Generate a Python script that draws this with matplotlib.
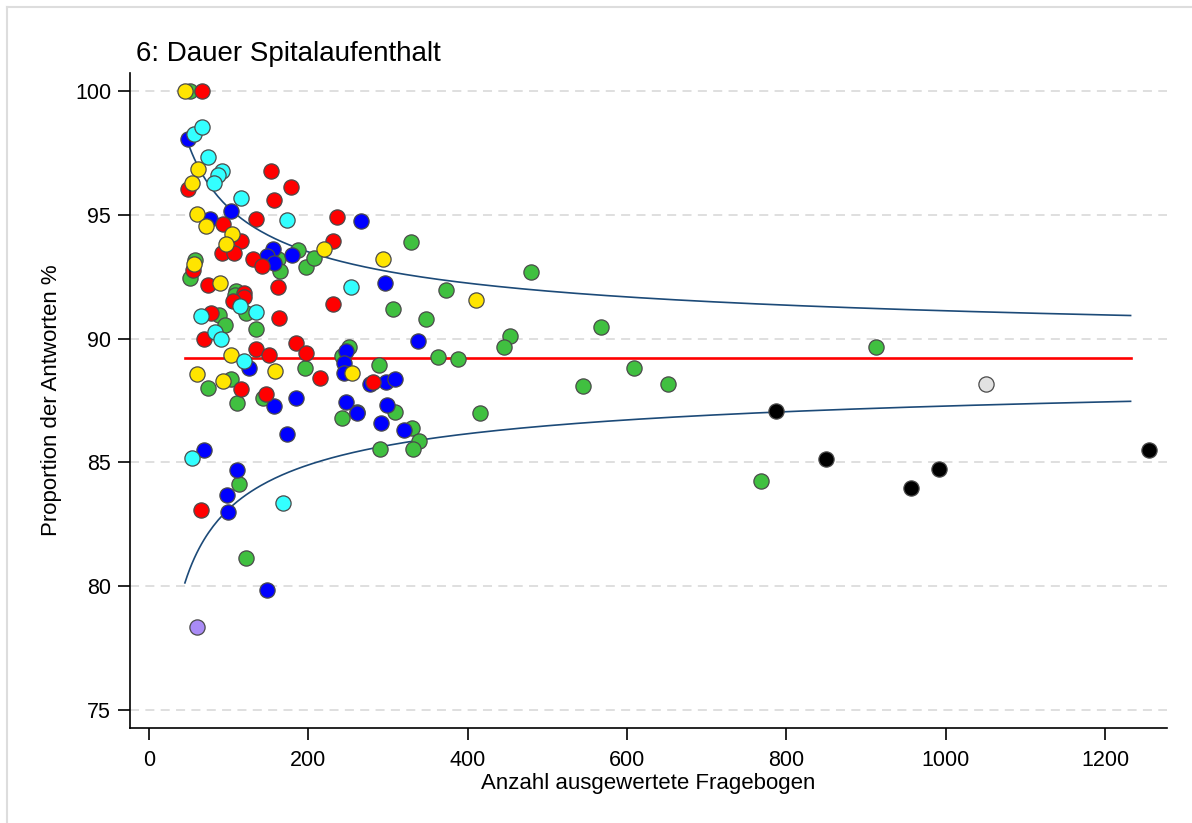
import numpy as np
import matplotlib
matplotlib.use('Agg')
import matplotlib.pyplot as plt
from matplotlib.lines import Line2D

plt.rcParams['font.family'] = ['Liberation Sans', 'DejaVu Sans']

# data: number of questionnaires (n) and proportion (%) per group
green_n = [51, 162, 164.5, 187, 197, 207.5, 58, 52, 109, 108, 122, 88, 95, 134, 196, 103,
           74.5, 143.5, 110, 113, 122, 328.5, 373, 479, 306, 347, 453, 445, 251.5, 242,
           288.4, 362.5, 387.6, 261.5, 242, 309, 415.6, 329.8, 339.4, 290, 331.9,
           566.8, 544.8, 609, 651.5, 768, 912]
green_p = [100.0, 93.2, 92.73, 93.58, 92.9, 93.24, 93.17, 92.43, 91.93, 91.76, 91.02, 90.95,
           90.55, 90.38, 88.8, 88.36, 88.02, 87.59, 87.39, 84.11, 81.15, 93.91, 91.96, 92.7,
           91.18, 90.78, 90.1, 89.67, 89.67, 89.3, 88.92, 89.24, 89.18, 87.05, 86.78, 87.05,
           87.0, 86.38, 85.88, 85.53, 85.53, 90.47, 88.08, 88.83, 88.16, 84.25, 89.66]

blue_n = [49, 103, 76, 155, 148, 157, 180, 125, 156.5, 184.5, 173, 69, 111, 97.5, 99.6,
          148.5, 265.8, 296.7, 337, 247, 244.8, 244.8, 277.5, 297.5, 308.8, 247.4, 260.7,
          298.4, 291, 320.6]
blue_p = [98.06, 95.17, 94.82, 93.6, 93.34, 93.07, 93.38, 88.8, 87.28, 87.59, 86.15, 85.5,
          84.69, 83.68, 83.01, 79.85, 94.75, 92.26, 89.92, 89.51, 89.03, 88.62, 88.17, 88.26,
          88.36, 87.45, 86.98, 87.32, 86.6, 86.31]

red_n = [67, 49, 153, 178, 157, 134, 93, 116, 91, 107, 131, 141.5, 230.6, 55, 74.5, 119, 162,
         119.7, 105, 163, 231.4, 78, 69, 134, 150, 185, 197, 215, 115.5, 146.5, 65, 235.6,
         280.8]
red_p = [100.0, 96.03, 96.77, 96.11, 95.6, 94.83, 94.63, 93.95, 93.47, 93.47, 93.2, 92.93,
         93.95, 92.77, 92.16, 91.85, 92.1, 91.69, 91.52, 90.82, 91.4, 91.05, 90.0, 89.58,
         89.34, 89.81, 89.4, 88.4, 87.95, 87.76, 83.08, 94.92, 88.26]

yellow_n = [45, 62, 53.6, 60, 72, 104, 97, 219, 56.5, 89, 102.5, 158, 60.7, 93, 293.4, 410.5,
            254.5]
yellow_p = [100.0, 96.84, 96.3, 95.02, 94.55, 94.22, 93.82, 93.6, 93.0, 92.23, 89.34, 88.7,
            88.56, 88.3, 93.2, 91.56, 88.62]

cyan_n = [56, 67, 74.5, 91, 87, 81, 115.5, 173, 114, 134, 65, 83, 90, 119, 53.6, 168, 253]
cyan_p = [98.26, 98.56, 97.35, 96.77, 96.6, 96.3, 95.7, 94.79, 91.32, 91.06, 90.91, 90.28,
          90.0, 89.11, 85.19, 83.35, 92.1]

black_n = [787.5, 850, 956.5, 992, 1255]
black_p = [87.06, 85.12, 83.95, 84.73, 85.52]

gray_n = [1050]
gray_p = [88.16]

purple_n = [60]
purple_p = [78.34]

mean_p = 89.2      # overall proportion in %
z = 1.96           # 95% control limits
n_min, n_max = 45, 1232

fig = plt.figure(figsize=(11.92, 8.23), dpi=100)
ax = fig.add_axes([130/1192, 1 - 728/823, (1167-130)/1192, (728-73)/823])

# funnel limits
n = np.linspace(n_min, n_max, 400)
p = mean_p / 100
se = np.sqrt(p * (1 - p) / n) * 100
ax.plot(n, mean_p + z * se, color='#1c4a78', lw=1.2, zorder=2)
ax.plot(n, mean_p - z * se, color='#1c4a78', lw=1.2, zorder=2)
ax.plot([n_min, n_max], [mean_p, mean_p], color='#ff0000', lw=1.9, zorder=2)

groups = [(green_n, green_p, '#40c040'),
          (blue_n, blue_p, '#0000ff'),
          (red_n, red_p, '#ff0000'),
          (yellow_n, yellow_p, '#ffe500'),
          (cyan_n, cyan_p, '#33ffff'),
          (black_n, black_p, '#000000'),
          (gray_n, gray_p, '#e2e2e2'),
          (purple_n, purple_p, '#a98bf5')]
for xs, ys, c in groups:
    ax.scatter(xs, ys, s=120, c=c, edgecolors='#4a4a4a', linewidths=0.9, zorder=3)

ax.set_xlim(-23.9, 1277.7)
ax.set_ylim(74.27, 100.73)
ax.set_xticks([0, 200, 400, 600, 800, 1000, 1200])
ax.set_yticks([75, 80, 85, 90, 95, 100])
ax.yaxis.grid(True, ls=(0, (5, 3.5)), color='#dcdcdc', lw=1.3)
ax.set_axisbelow(True)
for s in ['top', 'right']:
    ax.spines[s].set_visible(False)
for s in ['left', 'bottom']:
    ax.spines[s].set_linewidth(1.2)
ax.tick_params(direction='out', length=8.6, width=1.2, labelsize=15.5, pad=5)
ax.tick_params(axis='x', pad=7.5)

ax.set_xlabel('Anzahl ausgewertete Fragebogen', fontsize=16, labelpad=1)
ax.set_ylabel('Proportion der Antworten %', fontsize=16, labelpad=9)
fig.text(136/1192, 1 - 54/823, '6: Dauer Spitalaufenthalt', fontsize=20, va='center', ha='left')

# outer frame
fig.add_artist(Line2D([7/1192, 7/1192], [0, 1 - 7/823], color='#dddddd', lw=1.5))
fig.add_artist(Line2D([7/1192, 1], [1 - 7/823, 1 - 7/823], color='#dddddd', lw=1.5))

fig.savefig('out.png', dpi=100)
